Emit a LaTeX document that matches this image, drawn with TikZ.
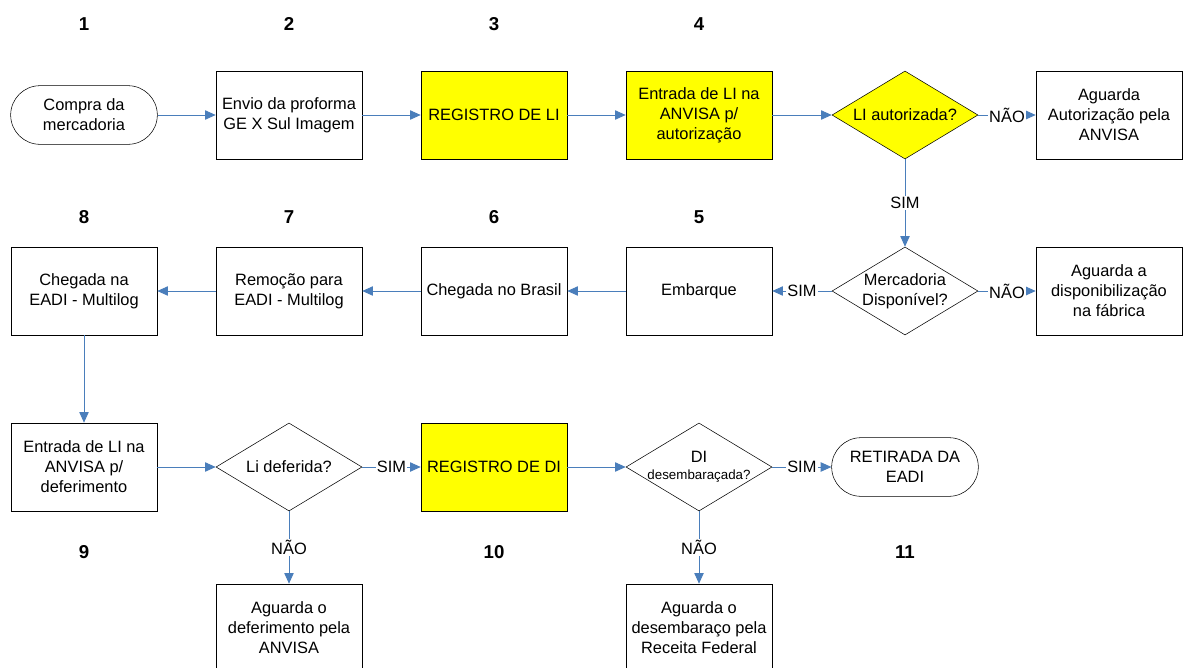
\documentclass[tikz,border=0pt]{standalone}
\usepackage{fontspec}
\setmainfont{Liberation Sans}
\usetikzlibrary{shapes.geometric,arrows.meta}
\definecolor{flowblue}{RGB}{74,126,187}
\definecolor{hiyellow}{RGB}{255,255,0}

\begin{document}
\begin{tikzpicture}[x=0.75pt,y=-0.75pt,
	every node/.style={font=\fontsize{12.3}{15}\selectfont, align=center},
	proc/.style={rectangle, draw=black, fill=white, minimum width=109.5pt, minimum height=66pt, inner sep=0pt},
	term/.style={rectangle, rounded corners=22pt, draw=black, fill=white, minimum width=110pt, minimum height=44pt, inner sep=0pt},
	decision/.style={diamond, aspect=1.66, draw=black, fill=white, minimum width=109.5pt, minimum height=66pt, inner sep=0pt},
	num/.style={font=\fontsize{14}{16}\selectfont\bfseries},
	lbl/.style={fill=white, inner sep=1pt},
	flow/.style={draw=flowblue, line width=0.75pt, -{Triangle[length=8pt,width=7pt]}}]
	\clip (0,0) rectangle (1183,668);
	\fill[white] (0,0) rectangle (1183,668);
	% step numbers
	\node[num] (n1) at (84,24) {1};
	\node[num] (n2) at (289,24) {2};
	\node[num] (n3) at (494,24) {3};
	\node[num] (n4) at (699,24) {4};
	\node[num] (n5) at (699,217) {5};
	\node[num] (n6) at (494,217) {6};
	\node[num] (n7) at (289,217) {7};
	\node[num] (n8) at (84,217) {8};
	\node[num] (n9) at (84,552) {9};
	\node[num] (n10) at (494,552) {10};
	\node[num] (n11) at (905,552) {11};
	% first row
	\node[term] (t1) at (84,115) {Compra da\\mercadoria};
	\node[proc] (b2) at (289,115) {Envio da proforma\\GE X Sul Imagem};
	\node[proc, fill=hiyellow] (b3) at (494,115) {REGISTRO DE LI};
	\node[proc, fill=hiyellow] (b4) at (699,115) {Entrada de LI na\\ANVISA p/\\autorização};
	\node[decision, fill=hiyellow] (d1) at (905,115) {LI autorizada?};
	\node[proc] (w1) at (1109,115) {Aguarda\\Autorização pela\\ANVISA};
	% second row
	\node[decision] (d2) at (905,291) {Mercadoria\\Disponível?};
	\node[proc] (w2) at (1109,291) {Aguarda a\\disponibilização\\na fábrica};
	\node[proc] (b5) at (699,291) {Embarque};
	\node[proc] (b6) at (494,291) {Chegada no Brasil};
	\node[proc] (b7) at (289,291) {Remoção para\\EADI - Multilog};
	\node[proc] (b8) at (84,291) {Chegada na\\EADI - Multilog};
	% third row
	\node[proc] (b9) at (84,467) {Entrada de LI na\\ANVISA p/\\deferimento};
	\node[decision] (d3) at (289,467) {Li deferida?};
	\node[proc, fill=hiyellow] (b10) at (494,467) {REGISTRO DE DI};
	\node[decision] (d4) at (699,467) {\makebox[0pt]{\begin{tabular}{@{}c@{}}DI\\[-2pt]{\fontsize{10}{12}\selectfont desembaraçada?}\end{tabular}}};
	\node[term] (t11) at (905,467) {RETIRADA DA\\EADI};
	\node[proc] (w3) at (289,628) {Aguarda o\\deferimento pela\\ANVISA};
	\node[proc] (w4) at (699,628) {Aguarda o\\desembaraço pela\\Receita Federal};
	% connectors
	\draw[flow] (t1) -- (b2);
	\draw[flow] (b2) -- (b3);
	\draw[flow] (b3) -- (b4);
	\draw[flow] (b4) -- (d1);
	\draw[flow] (d1) -- node[lbl]{NÃO} (w1);
	\draw[flow] (d1) -- node[lbl]{SIM} (d2);
	\draw[flow] (d2) -- node[lbl]{NÃO} (w2);
	\draw[flow] (d2) -- node[lbl]{SIM} (b5);
	\draw[flow] (b5) -- (b6);
	\draw[flow] (b6) -- (b7);
	\draw[flow] (b7) -- (b8);
	\draw[flow] (b8) -- (b9);
	\draw[flow] (b9) -- (d3);
	\draw[flow] (d3) -- node[lbl]{SIM} (b10);
	\draw[flow] (d3) -- node[lbl]{NÃO} (w3);
	\draw[flow] (b10) -- (d4);
	\draw[flow] (d4) -- node[lbl]{SIM} (t11);
	\draw[flow] (d4) -- node[lbl]{NÃO} (w4);
\end{tikzpicture}
\end{document}
